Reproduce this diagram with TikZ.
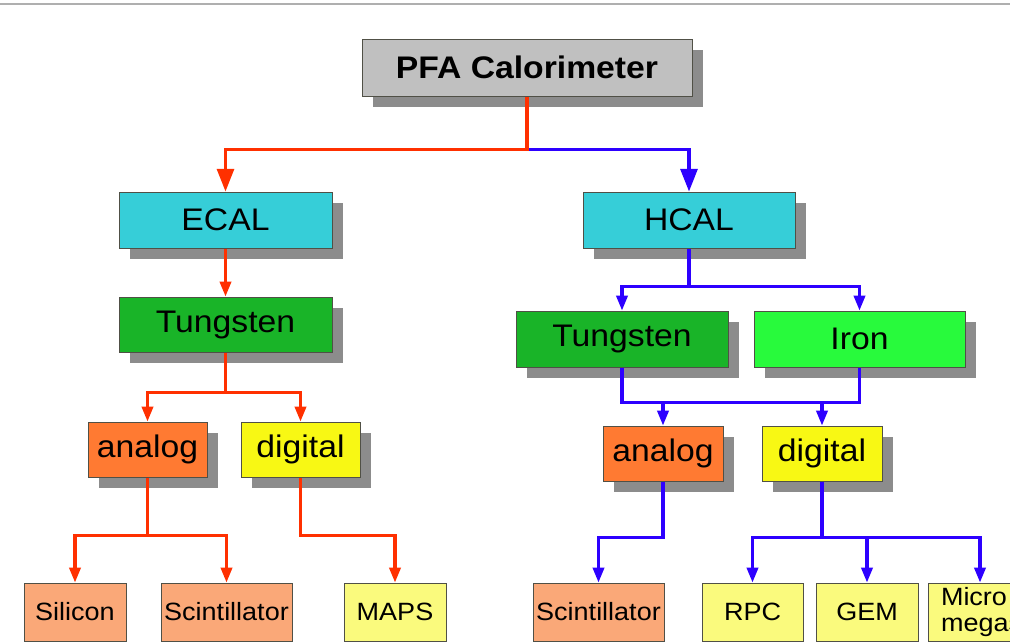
\documentclass[tikz,border=0pt]{standalone}
\usepackage{fontspec}
\setmainfont{Liberation Sans}[FakeStretch=1.08]
\usetikzlibrary{arrows.meta,shadows}
\definecolor{linered}{RGB}{255,48,0}
\definecolor{lineblue}{RGB}{45,0,255}
\definecolor{pfagray}{RGB}{192,192,192}
\definecolor{calcyan}{RGB}{54,206,216}
\definecolor{tunggreen}{RGB}{25,180,40}
\definecolor{irongreen}{RGB}{40,250,60}
\definecolor{anaorange}{RGB}{255,122,50}
\definecolor{digyellow}{RGB}{248,248,20}
\definecolor{salmon}{RGB}{250,168,120}
\definecolor{paleyellow}{RGB}{250,250,125}
\definecolor{shadowgray}{RGB}{140,140,140}
\definecolor{boxborder}{RGB}{80,80,70}
\definecolor{topline}{RGB}{175,175,175}
\begin{document}
\begin{tikzpicture}[x=0.75pt,y=-0.75pt,
  sz/.style n args={2}{minimum width=#1*0.75pt,minimum height=#2*0.75pt},
  box/.style={draw=boxborder,line width=0.75pt,inner sep=0pt,text=black,
    font=\fontsize{23.4}{24}\selectfont},
  shbox/.style={box,drop shadow={shadow xshift=8.25pt,shadow yshift=-8.25pt,fill=shadowgray,opacity=1}},
  leafbox/.style={box,sz={#1}{58},font=\fontsize{18.75}{19}\selectfont},
  redline/.style={draw=linered,line width=2.3pt},
  blueline/.style={draw=lineblue,line width=2.3pt},
  tipS/.style={-{Triangle[length=11.25pt,width=8.5pt]}},
  tipB/.style={-{Triangle[length=17pt,width=12.75pt]}}]
\useasboundingbox (0,0) rectangle (1010,643);
\clip (0,0) rectangle (1010,643);
\fill[white] (0,0) rectangle (1010,643);
\draw[topline,line width=0.8pt] (0,4) -- (1010,4);

% nodes
\node[shbox,fill=pfagray,sz={330}{57},font=\bfseries\fontsize{23.4}{24}\selectfont] (pfa) at (527,67.5) {PFA Calorimeter};
\node[shbox,fill=calcyan,sz={213}{56}] (ecal) at (225.5,220) {ECAL};
\node[shbox,fill=calcyan,sz={212}{56}] (hcal) at (689,220) {HCAL};
\node[shbox,fill=tunggreen,sz={213}{55}] (etung) at (225.5,324.5) {Tungsten};
\node[shbox,fill=tunggreen,sz={212}{56}] (htung) at (622,339) {Tungsten};
\node[shbox,fill=irongreen,sz={211}{56}] (iron) at (859.5,339) {Iron};
\node[shbox,fill=anaorange,sz={119}{55}] (eana) at (147.5,449.5) {analog};
\node[shbox,fill=digyellow,sz={119}{55}] (edig) at (300.5,449.5) {digital};
\node[shbox,fill=anaorange,sz={120}{55}] (hana) at (663,453.5) {analog};
\node[shbox,fill=digyellow,sz={120}{55}] (hdig) at (822,453.5) {digital};
\node[leafbox=102,fill=salmon] (silicon) at (75,612) {Silicon};
\node[leafbox=131,fill=salmon] (escint) at (226.5,612) {Scintillator};
\node[leafbox=102,fill=paleyellow] (maps) at (395,612) {MAPS};
\node[leafbox=131,fill=salmon] (hscint) at (598.5,612) {Scintillator};
\node[leafbox=101,fill=paleyellow] (rpc) at (752.5,612) {RPC};
\node[leafbox=102,fill=paleyellow] (gem) at (867,612) {GEM};
\node[box,sz={104}{58},fill=paleyellow,font=\fontsize{18.75}{19}\selectfont,
  align=left,text width=78*0.75pt,inner xsep=13*0.75pt] (micro) at (980,612) {Micro\\megas};

% connectors: top level
\path (pfa.south) ++(0,53) coordinate (j1);
\draw[blueline,tipB] (j1) -| (hcal.north);
\draw[redline,tipB] (pfa.south) -- (j1) -| (ecal.north);

% ECAL branch
\draw[redline,tipS] (ecal.south) -- (etung.north);
\path (etung.south) ++(0,40) coordinate (j2);
\draw[redline,tipS] (etung.south) -- (j2) -| (eana.north);
\draw[redline,tipS] (j2) -| (edig.north);
\path (eana.south) ++(0,58) coordinate (j3);
\draw[redline,tipS] (eana.south) -- (j3) -| (silicon.north);
\draw[redline,tipS] (j3) -| (escint.north);
\path (edig.south) ++(0,58) coordinate (j4);
\draw[redline,tipS] (edig.south) -- (j4) -| (maps.north);

% HCAL branch
\path (hcal.south) ++(0,38) coordinate (j5);
\draw[blueline,tipS] (hcal.south) -- (j5) -| (htung.north);
\draw[blueline,tipS] (j5) -| (iron.north);
\path (htung.south) ++(0,35) coordinate (j6);
\draw[blueline] (htung.south) -- (j6) -| (iron.south);
\draw[blueline,tipS] (j6 -| hana.north) -- (hana.north);
\draw[blueline,tipS] (j6 -| hdig.north) -- (hdig.north);
\path (hana.south) ++(0,56) coordinate (j7);
\draw[blueline,tipS] (hana.south) -- (j7) -| (hscint.north);
\path (hdig.south) ++(0,56) coordinate (j8);
\draw[blueline,tipS] (hdig.south) -- (j8) -| (rpc.north);
\draw[blueline,tipS] (j8) -| (gem.north);
\draw[blueline,tipS] (j8) -| (micro.north);
\end{tikzpicture}
\end{document}
